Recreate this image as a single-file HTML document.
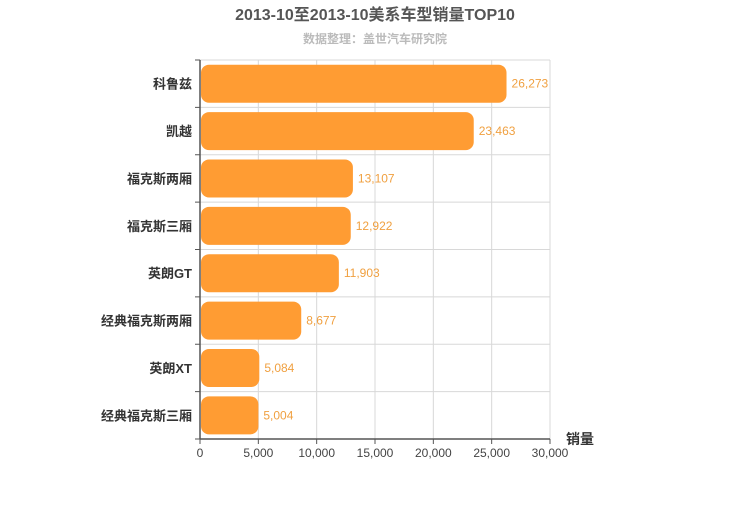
<!DOCTYPE html>
<html><head><meta charset="utf-8"><style>
body{margin:0;background:#fff;font-family:"Liberation Sans","Noto Sans CJK SC",sans-serif}
</style></head><body>
<svg width="750" height="500" xmlns="http://www.w3.org/2000/svg" font-family="Liberation Sans, Noto Sans CJK SC, sans-serif">
<text x="375" y="20" text-anchor="middle" font-size="16" font-weight="bold" fill="#555">2013-10至2013-10美系车型销量TOP10</text>
<text x="375" y="43" text-anchor="middle" font-size="12" font-weight="bold" fill="#bbb">数据整理：盖世汽车研究院</text>
<g id="grid"></g><g id="bars"></g><g id="axes"></g>
<text x="566" y="444" font-size="14" font-weight="bold" fill="#333">销量</text>
</svg>
<script>
const categories=["科鲁兹","凯越","福克斯两厢","福克斯三厢","英朗GT","经典福克斯两厢","英朗XT","经典福克斯三厢"];
const values=[26273,23463,13107,12922,11903,8677,5084,5004];
const ticks=[0,5000,10000,15000,20000,25000,30000];
const NS="http://www.w3.org/2000/svg";
const L=200,R=550,T=60,B=439,MAX=30000;
const x=v=>L+(R-L)*v/MAX;
const rowH=(B-T)/categories.length;
const y=i=>T+i*rowH;
function mk(t,a,p){const e=document.createElementNS(NS,t);for(const k in a)e.setAttribute(k,a[k]);p.appendChild(e);return e;}
const grid=document.getElementById('grid'),bars=document.getElementById('bars'),axes=document.getElementById('axes');
ticks.forEach(t=>{
 const l=mk('line',{x1:x(t),x2:x(t),y1:T,y2:B,stroke:'#d8d8d8'},grid);
 
 
 const tk=mk('line',{x1:x(t),x2:x(t),y1:B,y2:B+5,stroke:'#555'},axes);
 
 
 const tx=mk('text',{x:x(t),y:B+18,'text-anchor':'middle','font-size':12,fill:'#444'},axes);
 tx.textContent=t.toLocaleString('en-US');
 
 
});
for(let i=0;i<=categories.length;i++){
 const l=mk('line',{x1:L,x2:R,y1:y(i),y2:y(i),stroke:'#d8d8d8'},grid);
 
 
 const tk=mk('line',{x1:L-5,x2:L,y1:y(i),y2:y(i),stroke:'#555'},axes);
 
 
}
categories.forEach((c,i)=>{
 const cy=y(i)+rowH/2;
 const r=mk('rect',{x:L+1,y:cy-19,width:Math.max(0,x(values[i])-L-1),height:38,rx:8,fill:'#ff9c33'},bars);
 
 
 const v=mk('text',{x:x(values[i])+5,y:cy+4,'font-size':12,fill:'#f0a040'},bars);
 v.textContent=values[i].toLocaleString('en-US');
 
 
 const t=mk('text',{x:L-8,y:cy+5,'text-anchor':'end','font-size':13,'font-weight':'bold',fill:'#333'},axes);
 t.textContent=c;
 
 
});
const xa=mk('line',{x1:L,x2:R,y1:B,y2:B,stroke:'#555','stroke-width':1.5},axes);


const ya=mk('line',{x1:L,x2:L,y1:T,y2:B,stroke:'#555','stroke-width':1.5},axes);


</script>
</body></html>
